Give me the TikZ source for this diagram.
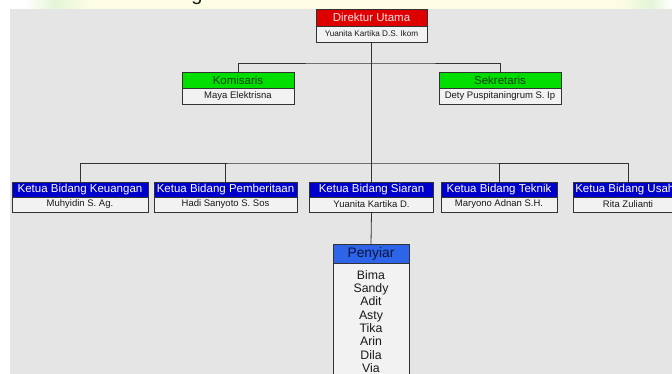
\documentclass[tikz,border=0pt]{standalone}
\usepackage{fontspec}
\setmainfont{Liberation Sans}
\definecolor{bg}{RGB}{229,229,229}
\definecolor{namefill}{RGB}{242,242,242}
\definecolor{hred}{RGB}{222,0,0}
\definecolor{hgreen}{RGB}{0,222,0}
\definecolor{hblue}{RGB}{0,0,205}
\definecolor{pblue}{RGB}{45,100,232}
\definecolor{edge}{RGB}{50,50,50}
\definecolor{txt}{RGB}{25,25,25}
\definecolor{topyel}{RGB}{253,253,228}
\definecolor{topgrn}{RGB}{228,245,215}
\begin{document}
\begin{tikzpicture}[x=1pt,y=-1pt,
  box/.style={draw=edge, line width=0.9pt, inner sep=0pt, outer sep=0pt, anchor=north},
  hdr/.style={box, fill=#1, font=\fontsize{11.5}{12}\selectfont},
  nm/.style={box, fill=namefill, text=txt, font=\fontsize{9.5}{10}\selectfont},
  ketua/.style={hdr=hblue, text=white, minimum height=15pt},
  ketuan/.style={nm, minimum height=15pt},
  conn/.style={draw=edge, line width=0.8pt}]
\useasboundingbox (0,0) rectangle (672,374);
\clip (0,0) rectangle (672,374);
% top strip and background
\fill[white] (0,0) rectangle (672,374);
\fill[topyel] (90,0) rectangle (620,9);
\shade[left color=white, right color=topgrn] (25,0) rectangle (55,9);
\shade[left color=topgrn, right color=topyel] (55,0) rectangle (90,9);
\shade[left color=topyel, right color=topgrn] (620,0) rectangle (650,9);
\shade[left color=topgrn, right color=white] (650,0) rectangle (672,9);
\node[anchor=base, inner sep=0pt, font=\fontsize{20}{20}\selectfont, text=txt] (capg) at (197,1) {g};
\fill[bg] (10,9) rectangle (672,374);

% Direktur Utama
\node[hdr=hred, text={rgb,255:red,255;green,225;blue,225}, minimum width=111pt, minimum height=17pt] (dir) at (371.5,9) {Direktur Utama};
\node[nm, font=\fontsize{8.2}{9}\selectfont, minimum width=111pt, minimum height=16pt] (dirn) at (dir.south) {Yuanita Kartika D.S. Ikom};

% Komisaris / Sekretaris
\node[hdr=hgreen, text={rgb,255:red,0;green,60;blue,0}, minimum width=112pt, minimum height=16pt] (kom) at (238,72) {Komisaris};
\node[nm, minimum width=112pt, minimum height=16pt] (komn) at (kom.south) {Maya Elektrisna};
\node[hdr=hgreen, text={rgb,255:red,0;green,60;blue,0}, minimum width=122pt, minimum height=16pt] (sek) at (500,72) {Sekretaris};
\node[nm, minimum width=122pt, minimum height=16pt] (sekn) at (sek.south) {Dety Puspitaningrum S. Ip};

% Ketua Bidang
\node[ketua, minimum width=136pt] (keu) at (80,182) {Ketua Bidang Keuangan};
\node[ketuan, minimum width=136pt] (keun) at (keu.south) {Muhyidin S. Ag.};
\node[ketua, minimum width=143pt] (pem) at (225.5,182) {Ketua Bidang Pemberitaan};
\node[ketuan, minimum width=143pt] (pemn) at (pem.south) {Hadi Sanyoto S. Sos};
\node[ketua, minimum width=124pt] (sia) at (371.5,182) {Ketua Bidang Siaran};
\node[ketuan, minimum width=124pt] (sian) at (sia.south) {Yuanita Kartika D.};
\node[ketua, minimum width=116pt] (tek) at (499,182) {Ketua Bidang Teknik};
\node[ketuan, minimum width=116pt] (tekn) at (tek.south) {Maryono Adnan S.H.};
\node[ketua, minimum width=110pt] (usa) at (628,182) {Ketua Bidang Usaha};
\node[ketuan, minimum width=110pt] (usan) at (usa.south) {Rita Zulianti};

% Penyiar
\node[hdr=pblue, text={rgb,255:red,10;green,20;blue,60}, font=\fontsize{13.8}{14}\selectfont, minimum width=76pt, minimum height=19pt] (pen) at (371,244) {Penyiar};
\node[nm, font=\fontsize{12.3}{13.3}\selectfont, align=center, minimum width=76pt, minimum height=117pt] (penn) at (pen.south) {Bima\\Sandy\\Adit\\Asty\\Tika\\Arin\\Dila\\Via};

% connectors
\coordinate (busa) at (371.5,63);
\coordinate (busb) at (371.5,163);
\draw[conn] (dirn.south) -- (busb);
\draw[conn] (kom.north) |- (busa) -| (sek.north);
\draw[conn] (keu.north) |- (busb) -| (usa.north);
\draw[conn] (pem.north) -- (pem.north |- busb);
\draw[conn] (tek.north) -- (tek.north |- busb);
\draw[conn] (busb) -- (sia.north);
\draw[conn] (sian.south) -- (pen.north);
\end{tikzpicture}
\end{document}
